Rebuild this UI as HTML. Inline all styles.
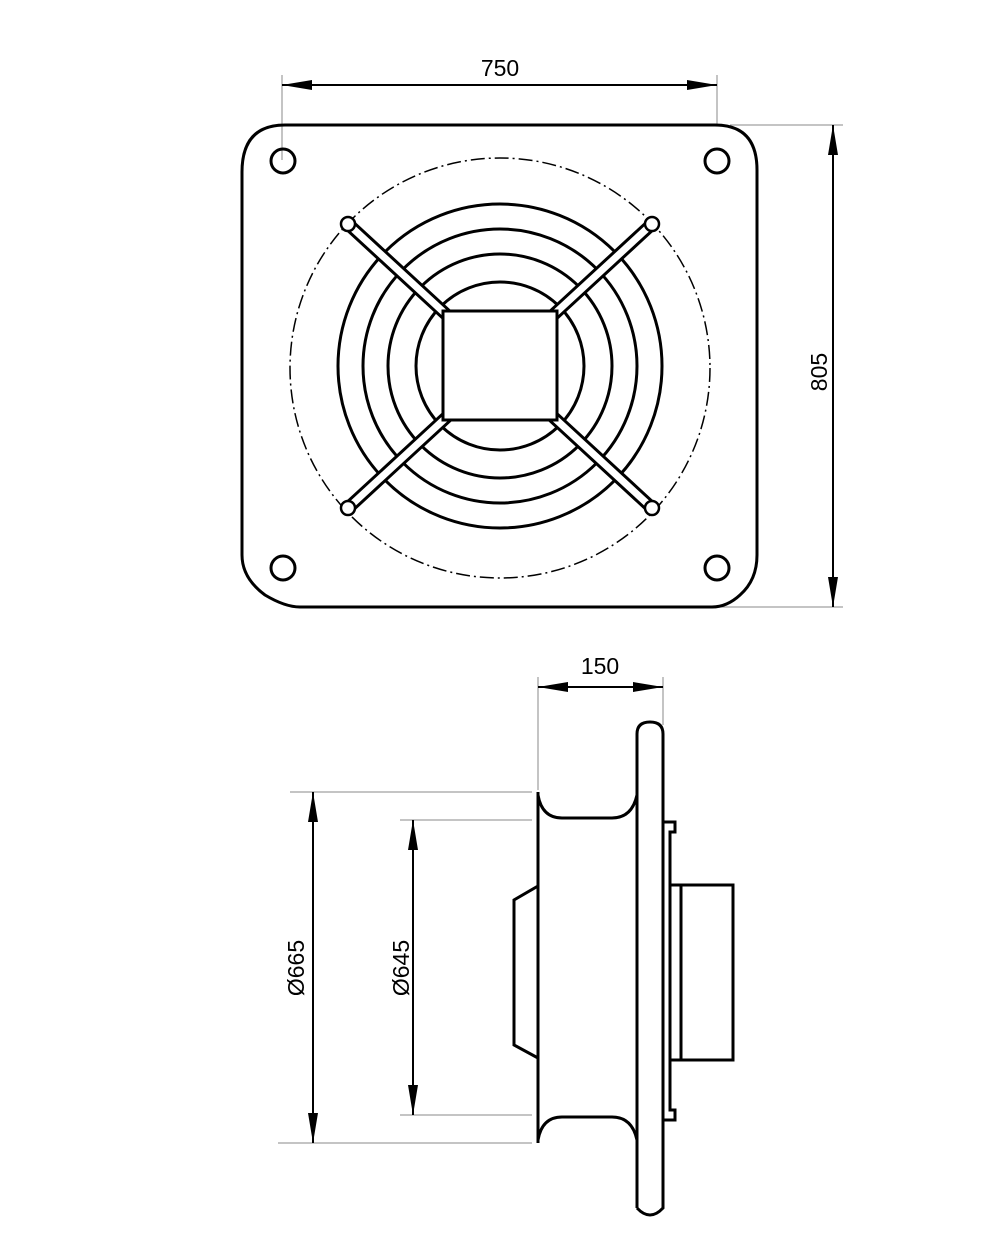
<!DOCTYPE html>
<html><head><meta charset="utf-8"><style>html,body{margin:0;padding:0;background:#fff}svg{display:block}</style></head><body>
<svg width="1000" height="1249" viewBox="0 0 1000 1249" xmlns="http://www.w3.org/2000/svg" font-family="Liberation Sans, DejaVu Sans, sans-serif">
<defs>
<marker id="a" viewBox="0 0 30 10" refX="30" refY="5" markerWidth="30" markerHeight="10" markerUnits="userSpaceOnUse" orient="auto-start-reverse"><path d="M0,0 L30,5 L0,10 z" fill="#000"/></marker>
</defs>
<g stroke="#888" stroke-width="1" fill="none">
<line x1="282" y1="75" x2="282" y2="160"/><line x1="717" y1="75" x2="717" y2="125"/>
<line x1="730" y1="125" x2="843" y2="125"/><line x1="720" y1="607" x2="843" y2="607"/>
<line x1="538" y1="677" x2="538" y2="790"/><line x1="663" y1="677" x2="663" y2="725"/>
<line x1="290" y1="792" x2="532" y2="792"/><line x1="278" y1="1143" x2="532" y2="1143"/>
<line x1="400" y1="820" x2="532" y2="820"/><line x1="400" y1="1115" x2="532" y2="1115"/>
</g>
<g stroke="#000" stroke-width="2" fill="none">
<line x1="282" y1="85" x2="717" y2="85" marker-start="url(#a)" marker-end="url(#a)"/>
<line x1="833" y1="125" x2="833" y2="607" marker-start="url(#a)" marker-end="url(#a)"/>
<line x1="538" y1="687" x2="663" y2="687" marker-start="url(#a)" marker-end="url(#a)"/>
<line x1="313" y1="792" x2="313" y2="1143" marker-start="url(#a)" marker-end="url(#a)"/>
<line x1="413" y1="820" x2="413" y2="1115" marker-start="url(#a)" marker-end="url(#a)"/>
</g>
<g font-size="23" fill="#000">
<text x="500" y="76" text-anchor="middle">750</text>
<text x="600" y="674" text-anchor="middle">150</text>
<text transform="translate(827,372) rotate(-90)" text-anchor="middle">805</text>
<text transform="translate(304,968) rotate(-90)" text-anchor="middle">Ø665</text>
<text transform="translate(409,968) rotate(-90)" text-anchor="middle">Ø645</text>
</g>
<g stroke="#000" stroke-width="3" fill="none">
<path d="M285,125 L715,125 Q757,125 757,170 L757,555 Q757,580 740,595 Q727,607 712,607 L300,607 Q285,607 265,595 Q242,578 242,555 L242,172 Q242,125 285,125 Z"/>
<circle cx="283" cy="161" r="12"/><circle cx="717" cy="161" r="12"/>
<circle cx="283" cy="568" r="12"/><circle cx="717" cy="568" r="12"/>
<circle cx="500" cy="366" r="162"/><circle cx="500" cy="366" r="137"/>
<circle cx="500" cy="366" r="112"/><circle cx="500" cy="366" r="84"/>
</g>
<circle cx="500" cy="368" r="210" stroke="#000" stroke-width="1.5" fill="none" stroke-dasharray="14,4,2,4"/>
<g stroke="#000" stroke-width="13" stroke-linecap="butt">
<line x1="348" y1="224" x2="450" y2="318"/><line x1="652" y1="224" x2="550" y2="318"/>
<line x1="348" y1="508" x2="450" y2="414"/><line x1="652" y1="508" x2="550" y2="414"/>
</g>
<g stroke="#fff" stroke-width="7" stroke-linecap="butt">
<line x1="348" y1="224" x2="450" y2="318"/><line x1="652" y1="224" x2="550" y2="318"/>
<line x1="348" y1="508" x2="450" y2="414"/><line x1="652" y1="508" x2="550" y2="414"/>
</g>
<g stroke="#000" stroke-width="2.5" fill="#fff">
<circle cx="348" cy="224" r="7"/><circle cx="652" cy="224" r="7"/>
<circle cx="348" cy="508" r="7"/><circle cx="652" cy="508" r="7"/>
</g>
<rect x="443" y="311" width="114" height="109" stroke="#000" stroke-width="3" fill="#fff"/>
<g stroke="#000" stroke-width="3" fill="none">
<path d="M538,792 L538,1143"/>
<path d="M538,795 Q542,818 562,818 L612,818 Q632,818 637,795"/>
<path d="M538,1140 Q542,1117 562,1117 L612,1117 Q632,1117 637,1140"/>
<path d="M538,886 L514,900 L514,1045 L538,1058"/>
<path d="M637,1208 L637,734 Q637,722 650,722 Q663,722 663,734 L663,1208 Q650,1222 637,1208"/>
<path d="M663,822 L675,822 L675,832 L670,832 L670,1110 L675,1110 L675,1120 L663,1120"/>
<rect x="670" y="885" width="63" height="175"/>
<line x1="681" y1="885" x2="681" y2="1060"/>
</g>
</svg>
</body></html>
